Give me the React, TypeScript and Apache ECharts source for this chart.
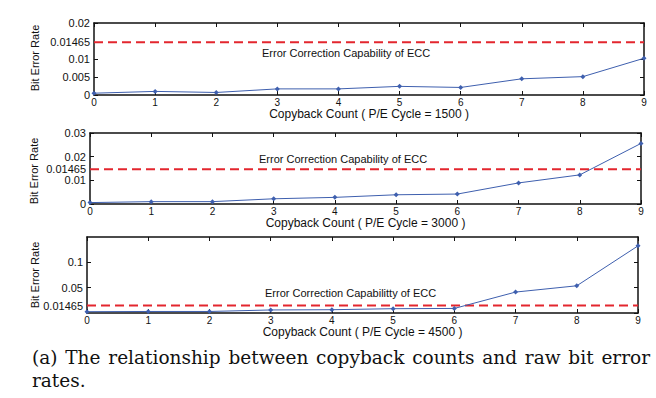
import React, { useEffect, useRef } from "react";
import * as echarts from "echarts";

const copybackCounts = [0, 1, 2, 3, 4, 5, 6, 7, 8, 9];
const ber1500 = [0.0005, 0.001, 0.0007, 0.0017, 0.0017, 0.0024, 0.0021, 0.0045, 0.0051, 0.0102];
const ber3000 = [0.0006, 0.001, 0.001, 0.0022, 0.0028, 0.0039, 0.0042, 0.0089, 0.0123, 0.0256];
const ber4500 = [0.0026, 0.003, 0.003, 0.006, 0.0065, 0.0085, 0.009, 0.0413, 0.0537, 0.1325];
const eccLimit = 0.01465;
const yTicks1500 = [0, 0.005, 0.01, 0.01465, 0.02];
const yTicks3000 = [0, 0.01, 0.01465, 0.02, 0.03];
const yTicks4500 = [0, 0.01465, 0.05, 0.1];
const yMaxes = [0.02, 0.03, 0.15];
const peCycles = [1500, 3000, 4500];
const eccLabels = [
  "Error Correction Capability of ECC",
  "Error Correction Capability of ECC",
  "Error Correction Capabilitty of ECC",
];
const captionLines = [
  "(a) The relationship between copyback counts and raw bit error",
  "rates.",
];

const grids = [
  { left: 94, right: 12, top: 23, height: 72 },
  { left: 90, right: 15, top: 133, height: 71 },
  { left: 87, right: 18, top: 237, height: 76 },
];
const yTitlePos = [
  { x: 35, y: 58 },
  { x: 34, y: 171 },
  { x: 35, y: 275 },
];
const eccTextPos = [
  { x: 262, y: 53 },
  { x: 259, y: 159 },
  { x: 265, y: 293 },
];

const FONT = "'Liberation Sans', Arial, Helvetica, sans-serif";
const AXIS_COLOR = "#111111";
const LINE_COLOR = "#3e5fae";
const RED = "#e3262e";

export default function App() {
  const ref = useRef<HTMLDivElement>(null);
  useEffect(() => {
    if (!ref.current) return;
    const chart = echarts.init(ref.current, undefined, { renderer: "svg" });
    const bers = [ber1500, ber3000, ber4500];
    const yTicks = [yTicks1500, yTicks3000, yTicks4500];
    const xAxis: any[] = [];
    const yAxis: any[] = [];
    const series: any[] = [];
    const graphic: any[] = [];
    const fmt = (v: number) => String(+v.toFixed(5));
    grids.forEach((g, i) => {
      const axisLine = { show: true, onZero: false, lineStyle: { color: AXIS_COLOR, width: 1.5 } };
      const tick = { show: true, inside: true, length: 4, lineStyle: { color: AXIS_COLOR, width: 1 } };
      xAxis.push({
        type: "value",
        gridIndex: i,
        min: 0,
        max: 9,
        interval: 1,
        position: "bottom",
        name: `Copyback Count ( P/E Cycle = ${peCycles[i]} )`,
        nameLocation: "middle",
        nameGap: 11,
        nameTextStyle: { fontFamily: FONT, fontSize: 12, color: AXIS_COLOR },
        axisLine,
        axisTick: tick,
        axisLabel: { show: true, margin: 2, fontFamily: FONT, fontSize: 10, color: AXIS_COLOR },
        splitLine: { show: false },
      });
      xAxis.push({
        type: "value",
        gridIndex: i,
        min: 0,
        max: 9,
        interval: 1,
        position: "top",
        axisLine,
        axisTick: tick,
        axisLabel: { show: false },
        splitLine: { show: false },
      });
      const ticks = yTicks[i];
      yAxis.push({
        type: "value",
        gridIndex: i,
        min: 0,
        max: yMaxes[i],
        position: "left",
        axisLine,
        axisTick: { ...tick, customValues: ticks },
        axisLabel: {
          show: true,
          margin: 4,
          customValues: ticks,
          formatter: (v: number) => fmt(v),
          fontFamily: FONT,
          fontSize: 11,
          color: AXIS_COLOR,
        },
        splitLine: { show: false },
      });
      yAxis.push({
        type: "value",
        gridIndex: i,
        min: 0,
        max: yMaxes[i],
        position: "right",
        axisLine,
        axisTick: { ...tick, customValues: ticks },
        axisLabel: { show: false },
        splitLine: { show: false },
      });
      series.push({
        type: "line",
        xAxisIndex: 2 * i,
        yAxisIndex: 2 * i,
        data: [
          [copybackCounts[0], eccLimit],
          [copybackCounts[copybackCounts.length - 1], eccLimit],
        ],
        showSymbol: false,
        symbol: "none",
        lineStyle: { color: RED, width: 2, type: [9, 5] },
        z: 3,
      });
      series.push({
        type: "line",
        xAxisIndex: 2 * i,
        yAxisIndex: 2 * i,
        data: copybackCounts.map((c, k) => [c, bers[i][k]]),
        symbol: "diamond",
        symbolSize: 5,
        itemStyle: { color: LINE_COLOR },
        lineStyle: { color: LINE_COLOR, width: 1 },
        z: 4,
      });
      graphic.push({
        type: "text",
        x: yTitlePos[i].x,
        y: yTitlePos[i].y,
        rotation: Math.PI / 2,
        style: {
          text: "Bit Error Rate",
          fontFamily: FONT,
          fontSize: 11,
          fill: AXIS_COLOR,
          align: "center",
          verticalAlign: "middle",
        },
      });
      graphic.push({
        type: "text",
        x: eccTextPos[i].x,
        y: eccTextPos[i].y,
        style: {
          text: eccLabels[i],
          fontFamily: FONT,
          fontSize: 11,
          fill: AXIS_COLOR,
          align: "left",
          verticalAlign: "middle",
        },
      });
    });
    chart.setOption({
      animation: false,
      backgroundColor: "#ffffff",
      grid: grids.map((g) => ({ ...g, containLabel: false })),
      xAxis,
      yAxis,
      series,
      graphic,
    });
    return () => chart.dispose();
  }, []);
  const captionStyle: React.CSSProperties = {
    position: "absolute",
    left: 32,
    width: 618,
    fontFamily: "'DejaVu Serif', serif",
    fontSize: 18.5,
    lineHeight: "20px",
    color: "#111",
    whiteSpace: "nowrap",
  };
  return (
    <>
      <div
        ref={ref}
        style={{ position: "absolute", left: 0, top: 0, width: 656, height: 398 }}
      />
      <div
        style={{
          ...captionStyle,
          top: 348,
          whiteSpace: "normal",
          textAlign: "justify",
          textAlignLast: "justify",
        }}
      >
        {captionLines[0]}
      </div>
      <div style={{ ...captionStyle, top: 371 }}>{captionLines[1]}</div>
    </>
  );
}
